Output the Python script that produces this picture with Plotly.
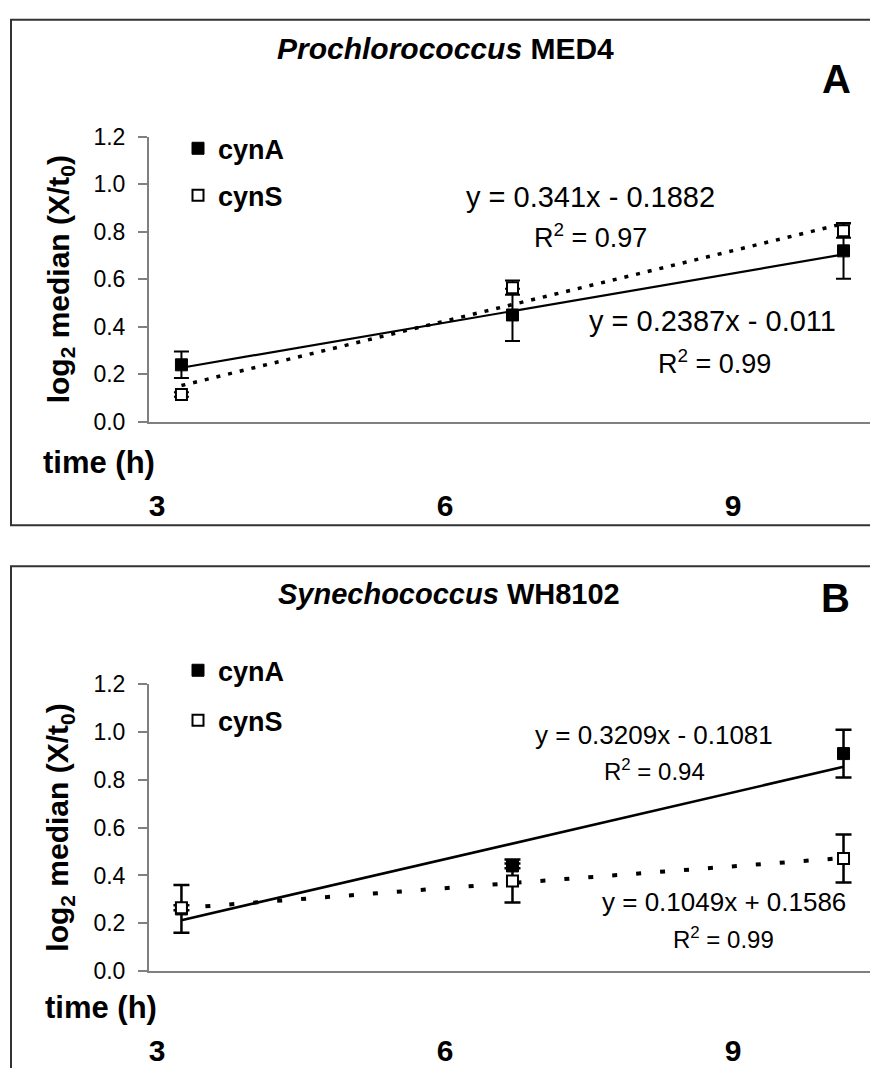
import plotly.graph_objects as go

# ---------------- data ----------------
sample_index = [1, 2, 3]          # sampling points (category positions)
hour_ticks = [3, 6, 9]            # x tick labels (h)

# Panel A: Prochlorococcus MED4
a_cynA = [0.24, 0.45, 0.72]
a_cynA_err = [0.056, 0.11, 0.117]
a_cynS = [0.115, 0.565, 0.805]
a_cynS_err = [0.01, 0.03, 0.03]
a_fit_cynA = (0.2387, -0.011)   # slope, intercept (shown on chart)
a_fit_cynS = (0.341, -0.1882)
a_r2 = {"cynA": "0.99", "cynS": "0.97"}

# Panel B: Synechococcus WH8102
b_cynA = [0.26, 0.44, 0.91]
b_cynA_err = [0.1, 0.01, 0.1]
b_cynS = [0.265, 0.377, 0.471]
b_cynS_err = [0.01, 0.09, 0.1]
b_fit_cynA = (0.3209, -0.1081)
b_fit_cynS = (0.1049, 0.1586)
b_r2 = {"cynA": "0.94", "cynS": "0.99"}

y_ticks = [0.0, 0.2, 0.4, 0.6, 0.8, 1.0, 1.2]

# ---------------- layout helpers ----------------
W, H = 870, 1068
FONT = "Liberation Sans, Arial, sans-serif"
AX = "#808080"


def px(x):
    return x / W


def py(y):
    return 1 - y / H


fig = go.Figure()


def fit_line(fit, xs):
    m, b = fit
    return [m * x + b for x in xs]


def add_panel(n, cynA, cynA_err, cynS, cynS_err, fitA, fitS, legend_name,
              solid_w, dot_w, dotlen, err_w, cap_w):
    xa = "x" if n == 1 else "x2"
    ya = "y" if n == 1 else "y2"
    ends = [sample_index[0], sample_index[-1]]
    # trend lines
    fig.add_trace(go.Scatter(x=ends, y=fit_line(fitA, ends), mode="lines",
                             line=dict(color="black", width=solid_w), showlegend=False,
                             xaxis=xa, yaxis=ya, hoverinfo="skip"))
    fig.add_trace(go.Scatter(x=ends, y=fit_line(fitS, ends), mode="lines",
                             line=dict(color="black", width=dot_w, dash=dotlen), showlegend=False,
                             xaxis=xa, yaxis=ya, hoverinfo="skip"))
    # data
    fig.add_trace(go.Scatter(x=sample_index, y=cynA, mode="markers", name="cynA",
                             marker=dict(symbol="square", size=12, color="black",
                                         line=dict(color="black", width=1)),
                             error_y=dict(type="data", array=cynA_err, color="black",
                                          thickness=err_w, width=cap_w),
                             xaxis=xa, yaxis=ya, legend=legend_name, legendgroup="a" + str(n)))
    fig.add_trace(go.Scatter(x=sample_index, y=cynS, mode="markers", name="cynS",
                             marker=dict(symbol="square", size=11, color="white",
                                         line=dict(color="black", width=2)),
                             error_y=dict(type="data", array=cynS_err, color="black",
                                          thickness=err_w, width=cap_w),
                             xaxis=xa, yaxis=ya, legend=legend_name, legendgroup="s" + str(n)))


add_panel(1, a_cynA, a_cynA_err, a_cynS, a_cynS_err, a_fit_cynA, a_fit_cynS, "legend",
          2.2, 3.5, "4px,8px", 2, 7.5)
add_panel(2, b_cynA, b_cynA_err, b_cynS, b_cynS_err, b_fit_cynA, b_fit_cynS, "legend2",
          2.6, 4, "5px,19px", 2.5, 8)

# invisible helper traces so the hour axes are drawn
fig.add_trace(go.Scatter(x=hour_ticks, y=[None] * 3, xaxis="x3", yaxis="y", showlegend=False,
                         hoverinfo="skip", mode="markers"))
fig.add_trace(go.Scatter(x=hour_ticks, y=[None] * 3, xaxis="x4", yaxis="y2", showlegend=False,
                         hoverinfo="skip", mode="markers"))

x_dom = [px(149), 1.0]
idx_range = [0.902, 3.08]
hour_range = [2.917, 10.427]

common_x = dict(domain=x_dom, range=idx_range, showline=True, linecolor=AX, linewidth=2,
                ticks="", showticklabels=False, showgrid=False, zeroline=False, fixedrange=True)
common_y = dict(range=[0, 1.2], tickvals=y_ticks, tickformat=".1f", ticks="outside", ticklen=9,
                tickwidth=1.5, tickcolor=AX, showline=True, linecolor=AX, linewidth=2,
                ticklabelstandoff=8,
                showgrid=False, zeroline=False, tickfont=dict(family=FONT, size=23, color="black"))
hour_x = dict(domain=x_dom, range=hour_range, tickvals=hour_ticks, ticks="", showline=False,
              showgrid=False, zeroline=False, anchor="free",
              tickfont=dict(family=FONT, size=30, color="black", weight="bold"))

fig.update_layout(
    width=W, height=H, margin=dict(l=0, r=0, t=0, b=0),
    paper_bgcolor="white", plot_bgcolor="rgba(0,0,0,0)",
    font=dict(family=FONT, color="black"),
    xaxis=dict(anchor="y", **common_x),
    yaxis=dict(anchor="x", domain=[py(419), py(127)], **common_y),
    xaxis2=dict(anchor="y2", **common_x),
    yaxis2=dict(anchor="x2", domain=[py(982), py(688)], **common_y),
    xaxis3=dict(overlaying="x", position=py(484), **hour_x),
    xaxis4=dict(overlaying="x2", position=py(1042), **hour_x),
    legend=dict(x=px(178), y=py(114), xanchor="left", yanchor="top", bgcolor="rgba(0,0,0,0)",
                font=dict(family=FONT, size=27, color="black", weight="bold"),
                tracegroupgap=9, itemclick=False),
    legend2=dict(x=px(178), y=py(649), xanchor="left", yanchor="top", bgcolor="rgba(0,0,0,0)",
                 font=dict(family=FONT, size=27, color="black", weight="bold"),
                 tracegroupgap=12, itemclick=False),
    showlegend=True,
)

# panel frames
fig.add_shape(type="rect", xref="paper", yref="paper", x0=px(11), x1=1.05, y0=py(525), y1=py(7),
              line=dict(color="#333333", width=2), fillcolor="rgba(0,0,0,0)", layer="below")
fig.add_shape(type="rect", xref="paper", yref="paper", x0=px(11), x1=1.05, y0=-0.05, y1=py(567),
              line=dict(color="#333333", width=2), fillcolor="rgba(0,0,0,0)", layer="below")


def ann(text, x, y, size, bold=False, angle=0):
    fig.add_annotation(text=text, x=px(x), y=py(y), xref="paper", yref="paper",
                       xanchor="center", yanchor="middle", showarrow=False, textangle=angle,
                       font=dict(family=FONT, size=size, color="black",
                                 weight="bold" if bold else "normal"))


def eq_text(fit):
    m, b = fit
    sign = "-" if b < 0 else "+"
    return f"y = {m}x {sign} {abs(b)}"


# Panel A texts
ann("<i>Prochlorococcus</i> MED4", 446, 36, 30, bold=True)
ann("A", 836, 68, 40, bold=True)
ann("log<sub>2</sub> median (X/t<sub>0</sub>)", 60, 273, 30, bold=True, angle=-90)
ann("time (h)", 99, 461, 31, bold=True)
ann(eq_text(a_fit_cynS), 590, 189, 29)
ann("R<sup>2</sup> = " + a_r2["cynS"], 590, 229, 27)
ann(eq_text(a_fit_cynA), 712, 316, 29)
ann("R<sup>2</sup> = " + a_r2["cynA"], 714, 358, 27)

# Panel B texts
ann("<i>Synechococcus</i> WH8102", 449, 595, 29, bold=True)
ann("B", 835, 600, 40, bold=True)
ann("log<sub>2</sub> median (X/t<sub>0</sub>)", 60, 835, 30, bold=True, angle=-90)
ann("time (h)", 101, 1019, 31, bold=True)
ann(eq_text(b_fit_cynA), 654, 740, 26)
ann("R<sup>2</sup> = " + b_r2["cynA"], 654, 776, 24)
ann(eq_text(b_fit_cynS), 724, 911, 26)
ann("R<sup>2</sup> = " + b_r2["cynS"], 723, 948, 24)

fig.write_html("out.html")
